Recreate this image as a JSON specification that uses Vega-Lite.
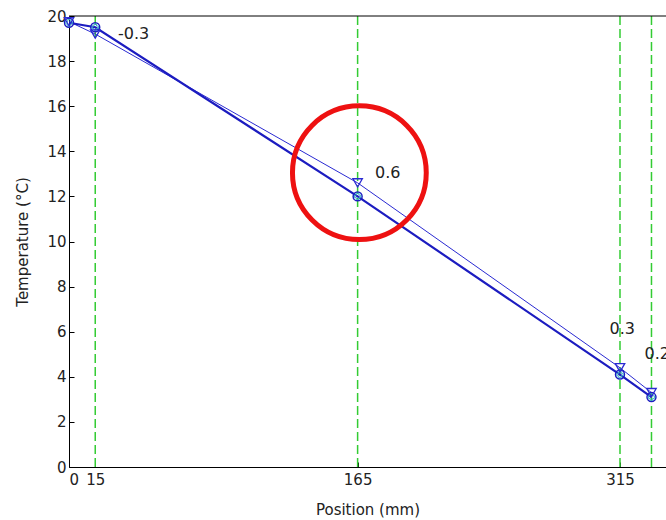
{
  "$schema": "https://vega.github.io/schema/vega-lite/v6.json",
  "width": 597,
  "height": 451,
  "autosize": {"type": "none"},
  "padding": {"left": 69, "top": 16, "right": 0, "bottom": 53},
  "background": "white",
  "config": {
    "view": {"stroke": null},
    "font": "DejaVu Sans",
    "axis": {
      "domainColor": "black",
      "domainWidth": 1,
      "tickColor": "black",
      "tickSize": -5,
      "grid": false,
      "labelFont": "DejaVu Sans",
      "labelFontSize": 15,
      "labelColor": "#222",
      "titleFont": "DejaVu Sans",
      "titleFontSize": 15,
      "titleFontWeight": "normal",
      "titleColor": "#222"
    }
  },
  "datasets": {
    "temps": [
      {"pos": 0, "temp": 19.7, "series": "A"},
      {"pos": 15, "temp": 19.5, "series": "A"},
      {"pos": 165, "temp": 12.0, "series": "A"},
      {"pos": 315, "temp": 4.1, "series": "A"},
      {"pos": 333, "temp": 3.1, "series": "A"},
      {"pos": 0, "temp": 19.75, "series": "B"},
      {"pos": 15, "temp": 19.2, "series": "B"},
      {"pos": 165, "temp": 12.6, "series": "B"},
      {"pos": 315, "temp": 4.4, "series": "B"},
      {"pos": 333, "temp": 3.3, "series": "B"}
    ],
    "sensors": [{"pos": 15}, {"pos": 165}, {"pos": 315}, {"pos": 333}],
    "diffs": [
      {"pos": 28, "temp": 19.2, "diff": "-0.3"},
      {"pos": 175, "temp": 13.05, "diff": "0.6"},
      {"pos": 309, "temp": 6.1, "diff": "0.3"},
      {"pos": 329, "temp": 5.0, "diff": "0.2"}
    ],
    "highlight": [{"pos": 166, "temp": 13.05}]
  },
  "layer": [
    {
      "data": {"name": "sensors"},
      "mark": {"type": "rule", "color": "#33cc33", "strokeWidth": 1.5, "strokeDash": [9, 4]},
      "encoding": {
        "x": {
          "field": "pos",
          "type": "quantitative",
          "scale": {"domain": [0, 341.3], "nice": false, "zero": false},
          "axis": {
            "values": [0, 15, 165, 315],
            "title": "Position (mm)",
            "labelPadding": 10,
            "titleY": 47,
            "titleBaseline": "alphabetic"
          }
        }
      }
    },
    {
      "data": {"values": [{"top": 20}]},
      "mark": {"type": "rule", "color": "black", "strokeWidth": 1},
      "encoding": {
        "y": {
          "field": "top",
          "type": "quantitative",
          "scale": {"domain": [0, 20], "nice": false},
          "axis": {
            "values": [0, 2, 4, 6, 8, 10, 12, 14, 16, 18, 20],
            "title": "Temperature (°C)",
            "labelPadding": 8,
            "titleX": -47,
            "titleY": 225.5,
            "titleAngle": -90,
            "titleAlign": "center",
            "titleBaseline": "middle"
          }
        }
      }
    },
    {
      "data": {"name": "temps"},
      "transform": [{"filter": "datum.series === 'B'"}],
      "mark": {"type": "line", "color": "#2a2ad2", "strokeWidth": 1},
      "encoding": {
        "x": {"field": "pos", "type": "quantitative"},
        "y": {"field": "temp", "type": "quantitative"}
      }
    },
    {
      "data": {"name": "temps"},
      "transform": [{"filter": "datum.series === 'A'"}],
      "mark": {"type": "line", "color": "#1c1cc0", "strokeWidth": 2.2},
      "encoding": {
        "x": {"field": "pos", "type": "quantitative"},
        "y": {"field": "temp", "type": "quantitative"}
      }
    },
    {
      "data": {"name": "temps"},
      "transform": [{"filter": "datum.series === 'A'"}],
      "mark": {"type": "point", "shape": "circle", "filled": false, "color": "#1c1cc0", "strokeWidth": 1.5, "size": 80, "opacity": 1},
      "encoding": {
        "x": {"field": "pos", "type": "quantitative"},
        "y": {"field": "temp", "type": "quantitative"}
      }
    },
    {
      "data": {"name": "temps"},
      "transform": [{"filter": "datum.series === 'A'"}],
      "mark": {"type": "point", "shape": "cross", "filled": false, "color": "#3fb0c8", "strokeWidth": 1, "size": 40, "opacity": 1},
      "encoding": {
        "x": {"field": "pos", "type": "quantitative"},
        "y": {"field": "temp", "type": "quantitative"}
      }
    },
    {
      "data": {"name": "temps"},
      "transform": [{"filter": "datum.series === 'B'"}],
      "mark": {"type": "point", "shape": "triangle-down", "filled": false, "color": "#2a2ad2", "strokeWidth": 1.3, "size": 90, "opacity": 1},
      "encoding": {
        "x": {"field": "pos", "type": "quantitative"},
        "y": {"field": "temp", "type": "quantitative"}
      }
    },
    {
      "data": {"name": "diffs"},
      "mark": {"type": "text", "align": "left", "baseline": "middle", "fontSize": 16, "font": "DejaVu Sans", "color": "#222"},
      "encoding": {
        "x": {"field": "pos", "type": "quantitative"},
        "y": {"field": "temp", "type": "quantitative"},
        "text": {"field": "diff"}
      }
    },
    {
      "data": {"name": "highlight"},
      "mark": {"type": "point", "shape": "circle", "filled": false, "color": "#ee1111", "strokeWidth": 5, "size": 17900, "opacity": 1},
      "encoding": {
        "x": {"field": "pos", "type": "quantitative"},
        "y": {"field": "temp", "type": "quantitative"}
      }
    }
  ],
  "resolve": {"scale": {"x": "shared", "y": "shared"}}
}
